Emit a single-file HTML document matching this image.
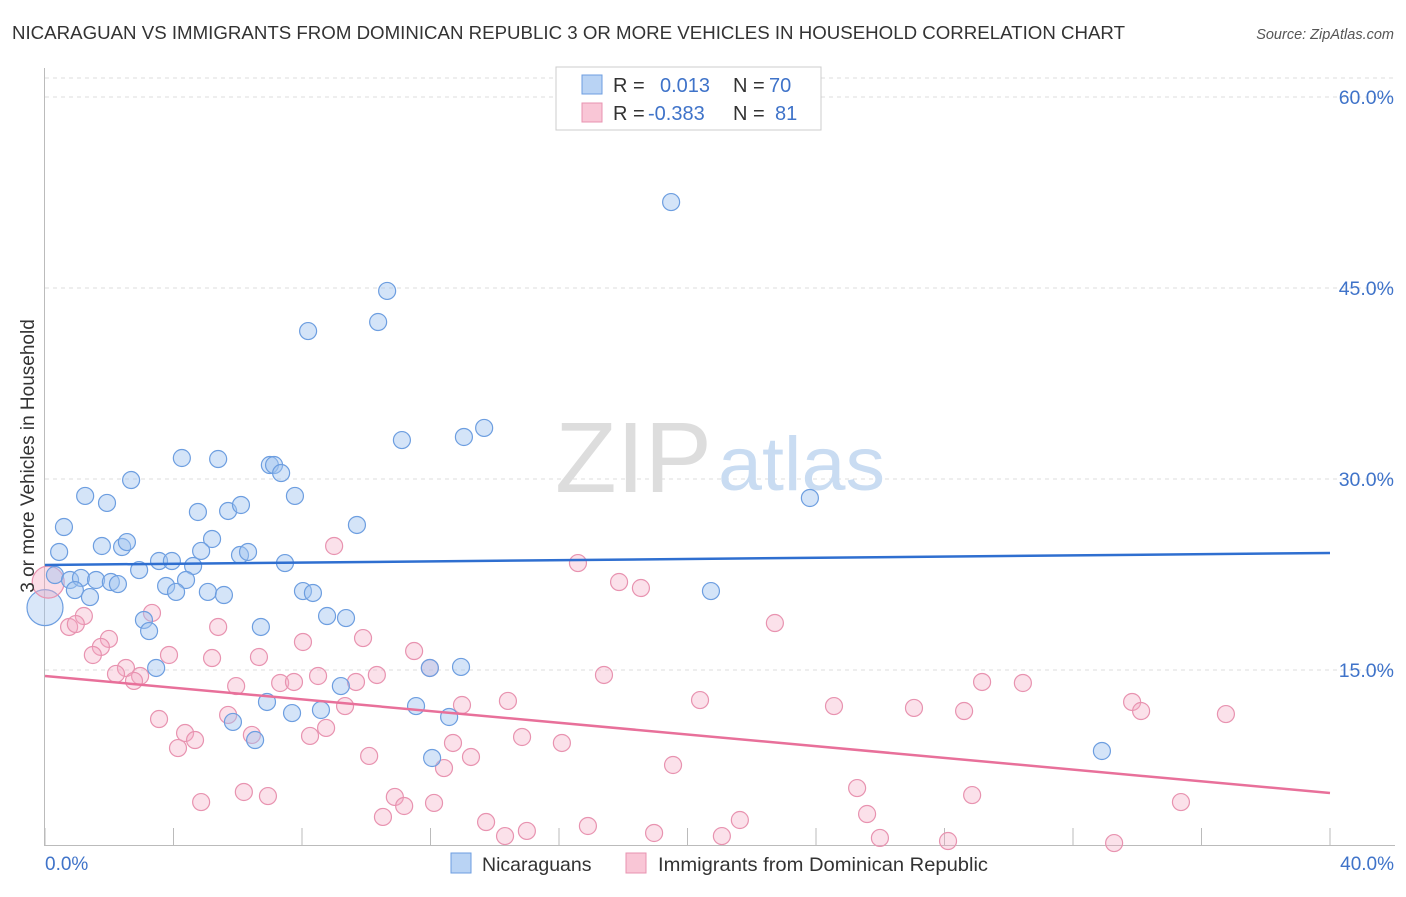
<!DOCTYPE html>
<html><head><meta charset="utf-8"><style>
body{margin:0;background:#fff;font-family:"Liberation Sans",sans-serif;}
svg text{font-family:"Liberation Sans",sans-serif;}
</style></head><body>
<svg width="1406" height="892" xmlns="http://www.w3.org/2000/svg" id="chart">
<text x="12" y="39" font-size="18" fill="#333" textLength="1113" lengthAdjust="spacingAndGlyphs">NICARAGUAN VS IMMIGRANTS FROM DOMINICAN REPUBLIC 3 OR MORE VEHICLES IN HOUSEHOLD CORRELATION CHART</text>
<text x="1394" y="39" font-size="14.5" fill="#555" font-style="italic" text-anchor="end">Source: ZipAtlas.com</text>
<g id="grid"></g>
<text x="712" y="492" font-size="100" fill="#ddd" text-anchor="end" font-family="Liberation Serif" textLength="157" lengthAdjust="spacingAndGlyphs">ZIP</text>
<text x="718" y="490" font-size="76" fill="#c9dcf2" textLength="167" lengthAdjust="spacingAndGlyphs">atlas</text>
<g id="axes"></g>
<g id="pts"></g>
<g id="lines"></g>
<text x="34" y="456" font-size="19" fill="#333" text-anchor="middle" transform="rotate(-90 34 456)">3 or more Vehicles in Household</text>
<text x="45" y="870" font-size="19" fill="#3f73c9">0.0%</text>
<text x="1394" y="870" font-size="19" fill="#3f73c9" text-anchor="end">40.0%</text>
<g>
<rect x="556" y="67" width="265" height="63" fill="#fff" stroke="#ccc"/>
<rect x="582" y="75" width="20" height="19" fill="#b9d3f4" stroke="#6d9ee0"/>
<rect x="582" y="103" width="20" height="19" fill="#f9c6d6" stroke="#e893b0"/>
<text x="613" y="92" font-size="20" fill="#333">R =</text>
<text x="660" y="92" font-size="20" fill="#3f73c9">0.013</text>
<text x="733" y="92" font-size="20" fill="#333">N =</text>
<text x="769" y="92" font-size="20" fill="#3f73c9">70</text>
<text x="613" y="120" font-size="20" fill="#333">R =</text>
<text x="648" y="120" font-size="20" fill="#3f73c9">-0.383</text>
<text x="733" y="120" font-size="20" fill="#333">N =</text>
<text x="775" y="120" font-size="20" fill="#3f73c9">81</text>
</g>
<g>
<rect x="451" y="853" width="20" height="20" fill="#b9d3f4" stroke="#6d9ee0"/>
<text x="482" y="871" font-size="19.5" fill="#333">Nicaraguans</text>
<rect x="626" y="853" width="20" height="20" fill="#f9c6d6" stroke="#e893b0"/>
<text x="658" y="871" font-size="19.5" fill="#333" textLength="330" lengthAdjust="spacingAndGlyphs">Immigrants from Dominican Republic</text>
</g>
</svg>
<script>
const yTicks=[15,30,45,60];
const yTickLabels=["15.0%","30.0%","45.0%","60.0%"];
const xTicks=[0,4,8,12,16,20,24,28,32,36,40];
const blueX=[19.49,10.65,8.19,10.37,11.11,13.04,13.67,23.81,4.26,5.39,7.00,7.13,7.35,7.78,2.68,1.25,1.93,0.59,4.76,5.70,6.10,9.71,0.44,1.77,2.40,2.55,5.20,4.86,6.07,6.32,3.55,3.95,7.47,4.61,2.93,0.31,0.78,1.12,1.59,2.05,2.27,4.39,3.77,4.08,0.93,1.40,5.07,5.57,8.03,8.34,20.73,3.08,3.24,6.72,8.78,9.37,3.46,11.98,12.95,9.21,6.91,7.69,8.59,11.55,12.58,5.85,6.54,12.05,32.90];
const blueY=[51.75,44.77,41.62,42.33,33.06,33.30,34.01,28.51,31.65,31.57,31.10,31.10,30.47,28.67,29.92,28.67,28.12,26.23,27.41,27.49,27.96,26.39,24.27,24.74,24.66,25.05,25.29,24.35,24.03,24.27,23.56,23.56,23.40,23.17,22.85,22.46,22.07,22.23,22.07,21.91,21.75,22.07,21.60,21.13,21.28,20.73,21.13,20.89,21.20,21.05,21.20,18.93,18.06,18.38,19.24,19.08,15.16,15.16,15.24,13.74,12.49,11.62,11.86,12.17,11.31,10.92,9.50,8.09,8.64];
const pinkX=[9.00,16.59,17.87,18.55,3.33,1.21,0.75,0.96,5.39,22.72,1.99,9.90,8.03,1.74,1.49,3.86,5.20,6.66,11.49,11.98,2.52,2.21,2.96,2.77,8.50,10.33,5.95,7.32,7.75,9.68,17.40,29.17,30.44,12.98,9.34,14.41,20.39,24.56,27.05,28.61,33.84,34.12,36.76,3.55,5.70,4.36,4.67,6.44,8.75,8.25,4.14,12.70,14.85,16.09,10.09,13.26,12.42,19.55,6.19,6.94,4.86,10.89,11.18,12.11,25.28,28.86,35.36,10.52,13.73,15.00,14.32,16.90,18.96,21.63,21.07,25.59,25.99,28.11,33.28];
const pinkY=[24.74,23.40,21.91,21.44,19.48,19.24,18.38,18.61,18.38,18.69,17.44,17.51,17.20,16.81,16.18,16.18,15.94,16.02,16.49,15.16,15.16,14.69,14.53,14.14,14.53,14.61,13.74,13.98,14.06,14.06,14.61,14.06,13.98,12.25,12.17,12.57,12.64,12.17,12.02,11.78,12.49,11.78,11.54,11.15,11.47,10.05,9.50,9.90,10.45,9.82,8.87,9.27,9.74,9.27,8.25,8.17,7.30,7.54,5.42,5.10,4.63,5.03,4.32,4.56,5.73,5.18,4.63,3.46,3.06,2.36,1.96,2.75,2.20,3.22,1.96,3.69,1.81,1.57,1.41];
const bigBlue=[0.0,19.9];
const bigPink=[0.1,21.9];
const blueTrend=[23.25,24.19];
const pinkTrend=[14.53,5.34];
const NS="http://www.w3.org/2000/svg";
const X=v=>45+v*32.125, Y=v=>861-v*12.733;
function mk(p,t,a){const e=document.createElementNS(NS,t);for(const k in a)e.setAttribute(k,a[k]);p.appendChild(e);return e;}
const grid=document.getElementById('grid'),axes=document.getElementById('axes'),pts=document.getElementById('pts'),lines=document.getElementById('lines');
let g=mk(grid,'line',{x1:45,x2:1395,y1:78,y2:78,stroke:'#ddd','stroke-dasharray':'4,4'});


yTicks.forEach((t,i)=>{
 const l=mk(grid,'line',{x1:45,x2:1395,y1:Y(t),y2:Y(t),stroke:'#ddd','stroke-dasharray':'4,4'});
 
 
 const tx=mk(axes,'text',{x:1394,y:Y(t)+7,'font-size':19.5,fill:'#3f73c9','text-anchor':'end'});
 tx.textContent=yTickLabels[i];
 
 
});
let a=mk(axes,'line',{x1:44.5,x2:44.5,y1:68,y2:845,stroke:'#bbb'});


a=mk(axes,'line',{x1:44,x2:1395,y1:845.5,y2:845.5,stroke:'#bbb'});


xTicks.forEach(t=>{
 const l=mk(axes,'line',{x1:X(t),x2:X(t),y1:828,y2:845,stroke:'#bbb'});
 
 
});
function dot(x,y,r,fill,stroke,name){
 const c=mk(pts,'circle',{cx:X(x),cy:Y(y),r:r,fill:fill,stroke:stroke,'stroke-width':1.2});
 
 
}
dot(bigBlue[0],bigBlue[1],18,'rgba(160,196,240,0.4)','#6d9ee0','nicaraguan-point');
dot(bigPink[0],bigPink[1],16,'rgba(244,170,195,0.4)','#e893b0','dominican-point');
pinkX.forEach((x,i)=>dot(x,pinkY[i],8.5,'rgba(244,170,195,0.35)','#e893b0','dominican-point'));
blueX.forEach((x,i)=>dot(x,blueY[i],8.5,'rgba(160,196,240,0.45)','#6d9ee0','nicaraguan-point'));
let tl=mk(lines,'line',{x1:X(0),x2:X(40),y1:Y(blueTrend[0]),y2:Y(blueTrend[1]),stroke:'#2f6fd0','stroke-width':2.5});


tl=mk(lines,'line',{x1:X(0),x2:X(40),y1:Y(pinkTrend[0]),y2:Y(pinkTrend[1]),stroke:'#e8709a','stroke-width':2.5});


</script>
</body></html>
